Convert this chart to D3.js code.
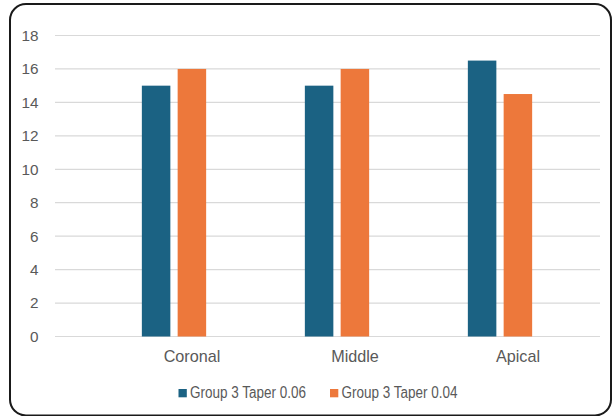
<!DOCTYPE html>
<html><head><meta charset="utf-8">
<script src="https://cdn.jsdelivr.net/npm/d3@7"></script>
<style>html,body{margin:0;padding:0;background:#fff;}svg{display:block;}</style>
</head><body>
<svg id="c" width="612" height="416"></svg>
<script>
const categories = ["Coronal", "Middle", "Apical"];
const seriesNames = ["Group 3 Taper 0.06", "Group 3 Taper 0.04"];
const taper006 = [15, 15, 16.5];
const taper004 = [16, 16, 14.5];
const yTicks = [0, 2, 4, 6, 8, 10, 12, 14, 16, 18];
const colors = ["#1b6283", "#ed783b"];

const svg = d3.select("#c");
const font = "'Liberation Sans', Arial, sans-serif";

svg.append("rect").attr("x", 10).attr("y", 4).attr("width", 601).attr("height", 411.5)
  .attr("rx", 16).attr("fill", "#fff").attr("stroke", "#1a1a1a").attr("stroke-width", 2);

const y = d3.scaleLinear().domain([0, 18]).range([336.5, 35.5]);
const x = d3.scaleBand().domain(categories).range([92.5, 581.5]).paddingInner(0).paddingOuter(0);
const gridX0 = 55, gridX1 = 600;

// gridlines
svg.append("g").selectAll("line").data(yTicks).join("line")
  .attr("x1", gridX0).attr("x2", gridX1)
  .attr("y1", d => y(d)).attr("y2", d => y(d))
  .attr("stroke", "#d9d9d9").attr("stroke-width", 1.2);

// y axis labels
const yAxis = d3.axisLeft(y).tickValues(yTicks).tickSize(0).tickPadding(0);
const ya = svg.append("g").attr("transform", "translate(38.5,0)").call(yAxis);
ya.select(".domain").remove();
ya.selectAll("text").attr("font-family", font).attr("font-size", 15.3).attr("fill", "#595959");

// bars
const barW = 28.5, gap = 7.3;
const series = [taper006, taper004];
series.forEach((vals, si) => {
  svg.append("g").selectAll("rect").data(categories).join("rect")
    .attr("x", (c) => x(c) + x.bandwidth() / 2 + (si === 0 ? -(gap / 2 + barW) : gap / 2))
    .attr("y", (c, i) => y(vals[i]))
    .attr("width", barW)
    .attr("height", (c, i) => y(0) - y(vals[i]))
    .attr("fill", colors[si]);
});

// x labels
const xAxis = d3.axisBottom(x).tickSize(0).tickPadding(0);
const xa = svg.append("g").attr("transform", "translate(18,350)").call(xAxis);
xa.select(".domain").remove();
xa.selectAll("text").attr("font-family", font).attr("font-size", 16.2).attr("fill", "#595959");

// legend
const legendX = [178.5, 330];
const lg = svg.append("g");
seriesNames.forEach((name, i) => {
  lg.append("rect").attr("x", legendX[i]).attr("y", 389).attr("width", 8.3).attr("height", 8.3).attr("fill", colors[i]);
  lg.append("text").attr("x", legendX[i] + 11.5).attr("y", 397.8)
    .attr("font-family", font)
    .attr("font-size", 16).attr("fill", "#595959")
    .attr("textLength", 116).attr("lengthAdjust", "spacingAndGlyphs")
    .text(name);
});
</script>
</body></html>
